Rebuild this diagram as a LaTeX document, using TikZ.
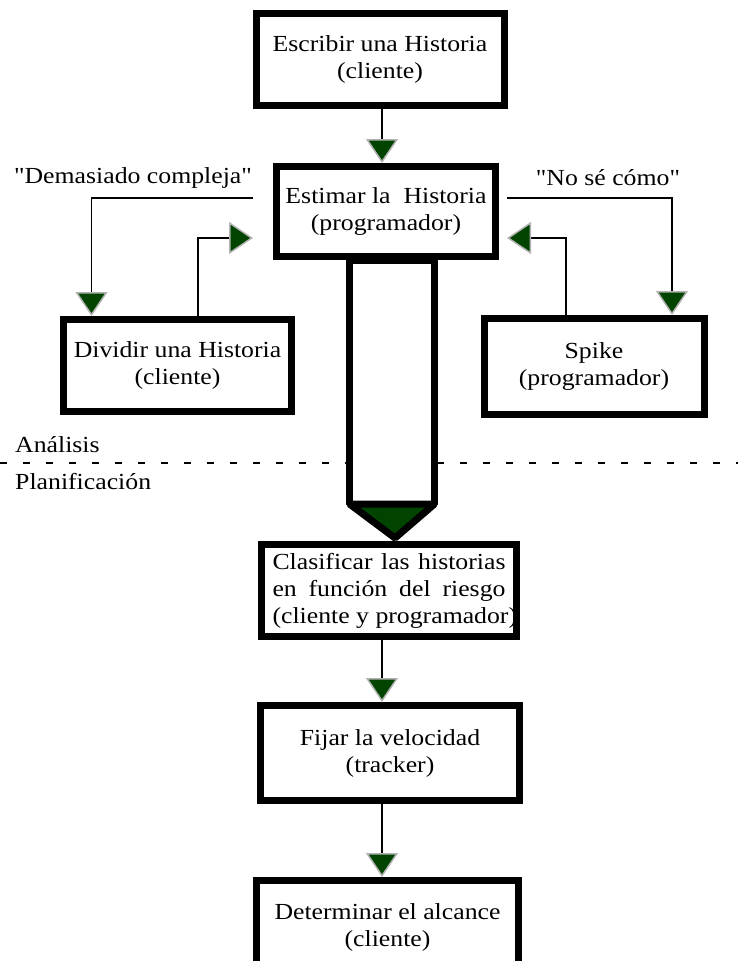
\documentclass[tikz,border=0pt]{standalone}
\usepackage{fontspec}
\setmainfont{Liberation Serif}[FakeStretch=1.12,Ligatures=TeXOff]
\usetikzlibrary{positioning,calc}
\usetikzlibrary{arrows.meta}
\definecolor{mygreen}{RGB}{0,68,0}
\tikzstyle{mybox}=[align=center, rectangle, draw, line width=7pt, inner sep=0pt]
\tikzstyle{connect arrow}=[-{Triangle[width=32pt,length=24pt,color=gray!60,fill=mygreen,line width=1.5pt]},line width=1.6pt]
\tikzstyle{label text}=[inner sep=0pt]
\tikzstyle{phase}=[anchor=west, inner sep=0pt]
\tikzstyle{phase line}=[line width=1.5pt,dash pattern=on 7pt off 16pt]
\tikzstyle{big arrow}=[line width=7pt,line join=bevel]

\begin{document}
\begin{tikzpicture}[
    x=1pt, y=1pt,
    on grid,
    font=\fontsize{23}{27}\selectfont]

\useasboundingbox (0,0) rectangle (738,-961);

% Analisis
\node[] (esc) [mybox, minimum width=248pt, minimum height=92pt] at (380,-59.5) {Escribir una Historia\\(cliente)};
\node[] (est) [mybox, minimum width=219pt, minimum height=90pt, below right=152pt and 6pt of esc] {Estimar la~ Historia\\(programador)};
\node[] (div) [mybox, minimum width=228pt, minimum height=92pt, below left=154pt and 208.5pt of est] {Dividir una Historia\\(cliente)};
\node[] (spike) [mybox, minimum width=220pt, minimum height=96pt, below right=155pt and 208pt of est] {Spike\\(programador)};

\node[] (dem) [label text, above left=33.5pt and 253pt of est] {"Demasiado compleja"};
\node[] (nose) [label text, above right=33.5pt and 222pt of est] {"No sé cómo"};

% Planificacion
\node[] (clas) [mybox, minimum width=255pt, minimum height=92pt, text width=233pt, align=justify, below right=379pt and 3pt of est] {\tolerance=10000 Clasificar las historias\linebreak en función del riesgo\linebreak \mbox{(cliente y programador)}};
\node[] (fij) [mybox, minimum width=259pt, minimum height=95pt, below right=162.5pt and 1pt of clas] {Fijar la velocidad\\(tracker)};
\node[] (det) [mybox, minimum width=262pt, minimum height=93pt, below left=174pt and 2.5pt of fij] {Determinar el alcance\\(cliente)};

% phases
\node[] (ana) [phase] at (15,-445) {Análisis};
\node[] (plan) [phase] at (15,-482) {Planificación};
\coordinate (sepL) at (0,-463);
\coordinate (sepR) at (738,-463);
\draw[phase line] (sepL) -- (sepR);

% big arrow
\draw[big arrow, fill=white] ($(est.south)+(-36.5,0)$) rectangle ($(est.south)+(48.5,-244)$);
\filldraw[big arrow, fill=mygreen] ($(est.south)+(-36.5,-244)$) -- ($(est.south)+(48.5,-244)$) -- ([xshift=6pt,yshift=3pt]clas.north) -- cycle;

\begin{scope}[connect arrow]
    \draw ([xshift=2pt]esc.south) -- ([xshift=2pt]esc.south |- est.north);

    \draw[shorten <=20pt] ([yshift=13.5pt]est.west) -| ([xshift=-86pt]div.north);
    \draw[shorten >=20pt] ([xshift=20.5pt]div.north) |- ([yshift=-26.5pt]est.west);

    \draw[shorten <=8pt] ([yshift=13.5pt]est.east) -| ([xshift=78pt]spike.north);
    \draw[shorten >=8pt] ([xshift=-28pt]spike.north) |- ([yshift=-26.5pt]est.east);

    \draw ([xshift=-7pt]clas.south) -- ([xshift=-7pt]clas.south |- fij.north);
    \draw ([xshift=-8pt]fij.south) -- ([xshift=-8pt]fij.south |- det.north);
\end{scope}

\end{tikzpicture}
\end{document}
